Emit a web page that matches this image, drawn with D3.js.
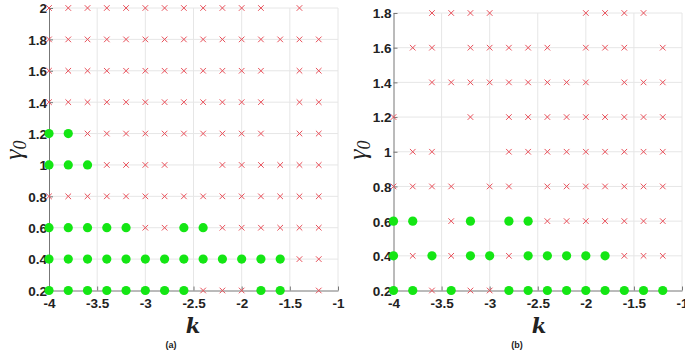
<!DOCTYPE html>
<html><head><meta charset="utf-8">
<script src="https://cdn.jsdelivr.net/npm/d3@7"></script>
<style>body{margin:0;background:#fff}svg{display:block}</style>
</head><body><svg id="c" width="685" height="351"></svg>
<script>
// k grid values
const kValues = [-4,-3.8,-3.6,-3.4,-3.2,-3.0,-2.8,-2.6,-2.4,-2.2,-2.0,-1.8,-1.6,-1.4,-1.2];
const xTicks = [-4,-3.5,-3,-2.5,-2,-1.5,-1];
const yTicksA = [0.2,0.4,0.6,0.8,1,1.2,1.4,1.6,1.8,2];
const yTicksB = [0.2,0.4,0.6,0.8,1,1.2,1.4,1.6,1.8];
// Panel (a): per gamma0 row, marker per k: 'g' = green dot, 'r' = red cross, '.' = none
const rowsA = [
  {g:2.0, m:"rrrrrrrrrrrr.r."},
  {g:1.8, m:"rrrrrrrrrrrrrrr"},
  {g:1.6, m:"rrrrrrrrrrrr.rr"},
  {g:1.4, m:"rrrrrrrrrrrr.rr"},
  {g:1.2, m:"ggrrrrrrrrrr.rr"},
  {g:1.0, m:"gggrrrr..rrrrrr"},
  {g:0.8, m:"rrrrrrrrrrrrrrr"},
  {g:0.6, m:"gggggrrggrrrrrr"},
  {g:0.4, m:"gggggggggggggrr"},
  {g:0.2, m:"ggggggggrrrgg.r"}
];
// Panel (b)
const rowsB = [
  {g:1.8, m:"..rrrr....rrrr."},
  {g:1.6, m:".rr.rrrrr.rrr.r"},
  {g:1.4, m:"..rrrrrrrrr.rrr"},
  {g:1.2, m:"r...r.rrrrrrrrr"},
  {g:1.0, m:".rr...rrrrrrrrr"},
  {g:0.8, m:"rrrr.rr.rrrrrrr"},
  {g:0.6, m:"gg.rg.ggrrrrrrr"},
  {g:0.4, m:"grgrggrgggggrrr"},
  {g:0.2, m:"ggrgrrggggggggg"}
];

const svg = d3.select("#c");

function panel(opts){
  const {x0,x1,yTop,yBot,yDomain,yTicks,rows,label,ylabX,labCx} = opts;
  const g = svg.append("g");
  const x = d3.scaleLinear().domain([-4,-1]).range([x0,x1]);
  const y = d3.scaleLinear().domain(yDomain).range([yBot,yTop]);
  // grid
  g.append("g").selectAll("line").data(xTicks.slice(1)).join("line")
    .attr("x1",d=>x(d)).attr("x2",d=>x(d)).attr("y1",yTop).attr("y2",yBot)
    .attr("stroke","#e6e6e6").attr("stroke-width",1);
  g.append("g").selectAll("line").data(yTicks.slice(1)).join("line")
    .attr("x1",x0).attr("x2",x1).attr("y1",d=>y(d)).attr("y2",d=>y(d))
    .attr("stroke","#e6e6e6").attr("stroke-width",1);
  // axes
  const xa = g.append("g").attr("transform",`translate(0,${yBot})`)
    .call(d3.axisBottom(x).tickValues(xTicks).tickFormat(d=>String(d)).tickSizeInner(-4).tickSizeOuter(0));
  const ya = g.append("g").attr("transform",`translate(${x0},0)`)
    .call(d3.axisLeft(y).tickValues(yTicks).tickFormat(d=>String(+d.toFixed(1))).tickSizeInner(-4).tickSizeOuter(0));
  [xa,ya].forEach(a=>{
    a.select(".domain").attr("stroke","#777").attr("stroke-width",1);
    a.selectAll(".tick line").attr("stroke","#777");
    a.selectAll("text").attr("font-family","Liberation Sans, Arial, sans-serif")
      .attr("font-size",13.5).attr("font-weight","bold").attr("fill","#222");
  });
  xa.selectAll("text").attr("dy","1.05em").attr("y",3);
  ya.selectAll("text").attr("x",-2).attr("dy","0.36em");
  // markers
  const pts = [];
  rows.forEach(r=>{
    for(let i=0;i<kValues.length;i++){
      const c=r.m[i];
      if(c==="g"||c==="r") pts.push({k:kValues[i],g:r.g,t:c});
    }
  });
  const s=2.8;
  g.append("g").selectAll("path").data(pts.filter(p=>p.t==="r")).join("path")
    .attr("d",p=>{const cx=x(p.k),cy=y(p.g);return `M${cx-s},${cy-s}L${cx+s},${cy+s}M${cx-s},${cy+s}L${cx+s},${cy-s}`;})
    .attr("stroke","#e8505a").attr("stroke-width",1).attr("fill","none");
  g.append("g").selectAll("circle").data(pts.filter(p=>p.t==="g")).join("circle")
    .attr("cx",p=>x(p.k)).attr("cy",p=>y(p.g)).attr("r",4.6).attr("fill","#14e614");
  // labels
  g.append("text").attr("x",labCx).attr("y",333).attr("text-anchor","middle")
    .attr("font-family","DejaVu Serif, serif").attr("font-style","italic").attr("font-weight","bold")
    .attr("font-size",21).attr("fill","#222").text("k");
  const yl = g.append("text").attr("transform",`translate(${ylabX},150) rotate(-90)`)
    .attr("text-anchor","middle").attr("font-family","Liberation Serif, serif").attr("font-style","italic")
    .attr("font-size",26).attr("fill","#222");
  yl.append("tspan").text("γ");
  yl.append("tspan").attr("font-size",18).attr("dy",4).text("0");
  g.append("text").attr("x",labCx-22).attr("y",348).attr("text-anchor","middle")
    .attr("font-family","Liberation Sans, Arial, sans-serif").attr("font-weight","bold")
    .attr("font-size",9).attr("fill","#222").text(label);
}

panel({x0:49,x1:338,yTop:8,yBot:290.5,yDomain:[0.2,2],yTicks:yTicksA,rows:rowsA,label:"(a)",ylabX:22,labCx:193});
panel({x0:393.5,x1:682,yTop:13,yBot:290.5,yDomain:[0.2,1.8],yTicks:yTicksB,rows:rowsB,label:"(b)",ylabX:366,labCx:539});
</script></body></html>
